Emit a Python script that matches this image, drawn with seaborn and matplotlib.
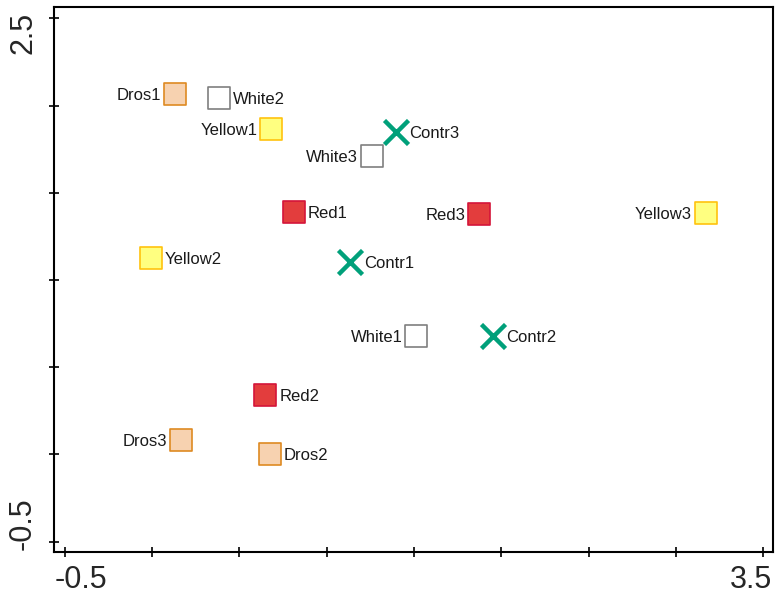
import matplotlib
matplotlib.use("Agg")
import matplotlib.pyplot as plt
import matplotlib.transforms as mtransforms
import seaborn as sns
import pandas as pd

# ---- data ----
names = ["Dros1", "White2", "Yellow1", "Contr3", "White3", "Red1", "Red3", "Yellow3",
         "Yellow2", "Contr1", "White1", "Contr2", "Red2", "Dros2", "Dros3"]
xs = [0.130, 0.383, 0.681, 1.394, 1.259, 0.812, 1.872, 3.173,
      -0.007, 1.133, 1.514, 1.950, 0.649, 0.672, 0.166]
ys = [2.064, 2.046, 1.866, 1.847, 1.709, 1.390, 1.381, 1.386,
      1.126, 1.103, 0.681, 0.680, 0.338, 0.001, 0.085]
groups = ["Dros", "White", "Yellow", "Contr", "White", "Red", "Red", "Yellow",
          "Yellow", "Contr", "White", "Contr", "Red", "Dros", "Dros"]
label_side = ["left", "right", "left", "right", "left", "right", "left", "left",
              "right", "right", "left", "right", "right", "right", "left"]
x_tick_values = [-0.5, 0.0, 0.5, 1.0, 1.5, 2.0, 2.5, 3.0, 3.5]
y_tick_values = [-0.5, 0.0, 0.5, 1.0, 1.5, 2.0, 2.5]

df = pd.DataFrame({"name": names, "x": xs, "y": ys, "group": groups, "side": label_side})

face = {"Dros": "#F7D2B0", "White": "#FFFFFF", "Yellow": "#FFFF80", "Red": "#E33D3D"}
edge = {"Dros": "#DE8A22", "White": "#7F7F7F", "Yellow": "#FFC20E", "Red": "#D4153A"}
green = "#00A07A"

sns.set_style("white")
plt.rcParams["font.family"] = ["Liberation Sans", "DejaVu Sans"]

fig = plt.figure(figsize=(7.75, 5.96), dpi=100)
ax = fig.add_axes([54 / 775, (596 - 552) / 596, (773.3 - 54) / 775, (552 - 7.3) / 596])

for g in ["Dros", "White", "Yellow", "Red"]:
    sub = df[df.group == g]
    sns.scatterplot(data=sub, x="x", y="y", ax=ax, marker="s", s=230,
                    color=face[g], edgecolor=edge[g], linewidth=1.2, zorder=3)
sub = df[df.group == "Contr"]
sns.scatterplot(data=sub, x="x", y="y", ax=ax, marker="x", s=300,
                color=green, linewidth=3.2, zorder=3)

for _, r in df.iterrows():
    off = 10 if r.side == "right" else -10
    ha = "left" if r.side == "right" else "right"
    ax.annotate(r["name"], (r.x, r.y), xytext=(off, 0), textcoords="offset points",
                ha=ha, va="center_baseline", fontsize=12, color="#1a1a1a")

ax.set_xlim(-0.563, 3.559)
ax.set_ylim(-0.560, 2.564)
ax.set_xlabel("")
ax.set_ylabel("")

ax.set_xticks(x_tick_values)
ax.set_yticks(y_tick_values)
ax.set_xticklabels([f"{v:g}" if v in (x_tick_values[0], x_tick_values[-1]) else "" for v in x_tick_values],
                   fontsize=22)
ax.set_yticklabels([f"{v:g}" if v in (y_tick_values[0], y_tick_values[-1]) else "" for v in y_tick_values],
                   fontsize=22, rotation=90)
ax.tick_params(axis="both", direction="inout", length=7, width=1.2, color="black",
               bottom=True, left=True, top=False, right=False)
ax.tick_params(axis="x", pad=6)
ax.tick_params(axis="y", pad=8)

for s in ax.spines.values():
    s.set_visible(True)
    s.set_color("black")
    s.set_linewidth(1.5)

# align end tick labels to stay within axis extent
xl = ax.get_xticklabels()
xl[0].set_ha("left")
xl[0].set_transform(xl[0].get_transform() + mtransforms.ScaledTranslation(-10 / 100, 0, fig.dpi_scale_trans))
xl[-1].set_ha("right")
xl[-1].set_transform(xl[-1].get_transform() + mtransforms.ScaledTranslation(9 / 100, 0, fig.dpi_scale_trans))
yl = ax.get_yticklabels()
yl[0].set_va("bottom")
yl[0].set_transform(yl[0].get_transform() + mtransforms.ScaledTranslation(0, -8 / 100, fig.dpi_scale_trans))
yl[-1].set_va("top")
yl[-1].set_transform(yl[-1].get_transform() + mtransforms.ScaledTranslation(0, 7 / 100, fig.dpi_scale_trans))

fig.savefig("out.png", dpi=100)
